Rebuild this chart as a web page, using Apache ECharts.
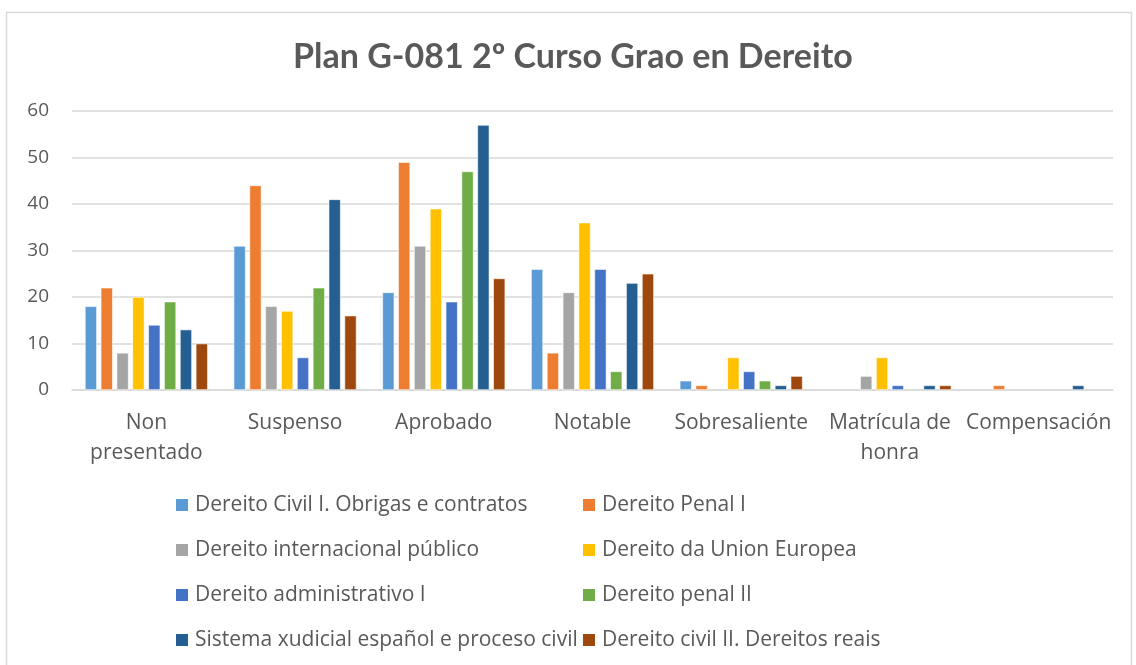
<!DOCTYPE html>
<html>
<head>
<meta charset="utf-8">
<script src="https://cdn.jsdelivr.net/npm/echarts@6/dist/echarts.min.js"></script>
<style>
  html, body { margin: 0; padding: 0; background: #fff; }
  #chart { width: 1136px; height: 665px; }
</style>
</head>
<body>
<div id="chart"></div>
<script>
const categories = ['Non\npresentado', 'Suspenso', 'Aprobado', 'Notable', 'Sobresaliente', 'Matrícula de\nhonra', 'Compensación']
const seriesNames = [
  'Dereito Civil I. Obrigas e contratos',
  'Dereito Penal I',
  'Dereito internacional público',
  'Dereito da Union Europea',
  'Dereito administrativo I',
  'Dereito penal II',
  'Sistema xudicial español e proceso civil',
  'Dereito civil II. Dereitos reais'
]
// null = no bar in the picture
const civil1 = [18, 31, 21, 26, 2, null, null]
const penal1 = [22, 44, 49, 8, 1, null, 1]
const internacional = [8, 18, 31, 21, null, 3, null]
const unionEuropea = [20, 17, 39, 36, 7, 7, null]
const administrativo = [14, 7, 19, 26, 4, 1, null]
const penal2 = [19, 22, 47, 4, 2, null, null]
const xudicial = [13, 41, 57, 23, 1, 1, 1]
const civil2 = [10, 16, 24, 25, 3, 1, null]
const yTicks = [0, 10, 20, 30, 40, 50, 60]

const seriesData = [civil1, penal1, internacional, unionEuropea, administrativo, penal2, xudicial, civil2]
const colors = ['#5b9bd5', '#ed7d31', '#a5a5a5', '#ffc000', '#4472c4', '#70ad47', '#255e91', '#9e480e']
const font = '"Open Sans", Lato, sans-serif'

const legendBase = {
  orient: 'vertical',
  top: 489,
  itemWidth: 12,
  itemHeight: 12,
  itemGap: 23,
  icon: 'rect',
  itemStyle: { borderWidth: 0 },
  textStyle: { fontFamily: font, fontSize: 21, color: '#595959', lineHeight: 22, padding: [0, 0, 0, 2] }
}

const chart = echarts.init(document.getElementById('chart'))
chart.setOption({
  animation: false,
  color: colors,
  title: {
    text: 'Plan G-081 2º Curso Grao en Dereito',
    left: 288,
    top: 35,
    textStyle: { fontFamily: 'Lato, sans-serif', fontSize: 34, fontWeight: 'bold', color: '#595959' }
  },
  graphic: [{
    type: 'rect',
    shape: { x: 6.5, y: 12.5, width: 1125, height: 700 },
    style: { fill: 'none', stroke: '#d9d9d9', lineWidth: 1.5 },
    silent: true
  }],
  legend: [
    Object.assign({}, legendBase, {
      left: 171,
      data: [seriesNames[0], seriesNames[2], seriesNames[4], seriesNames[6]]
    }),
    Object.assign({}, legendBase, {
      left: 578,
      data: [seriesNames[1], seriesNames[3], seriesNames[5], seriesNames[7]]
    })
  ],
  grid: { left: 72, right: 23, top: 111, bottom: 275, containLabel: false },
  xAxis: {
    type: 'category',
    data: categories,
    axisLine: { lineStyle: { color: '#d9d9d9', width: 1.5 } },
    axisTick: { show: false },
    axisLabel: { fontFamily: font, fontSize: 21, color: '#595959', margin: 18, lineHeight: 30, interval: 0 }
  },
  yAxis: {
    type: 'value',
    min: 0,
    max: 60,
    interval: 10,
    axisLine: { show: false },
    axisTick: { show: false },
    axisLabel: {
      fontFamily: font, fontSize: 19, color: '#595959', margin: 23,
      formatter: v => yTicks.includes(v) ? String(v) : ''
    },
    splitLine: { lineStyle: { color: '#d9d9d9', width: 1.5 } }
  },
  series: seriesNames.map((name, i) => ({
    name,
    type: 'bar',
    data: seriesData[i],
    barWidth: 12,
    barGap: '32%',
    itemStyle: { borderColor: '#ffffff', borderWidth: 0.6 }
  }))
})
</script>
</body>
</html>
